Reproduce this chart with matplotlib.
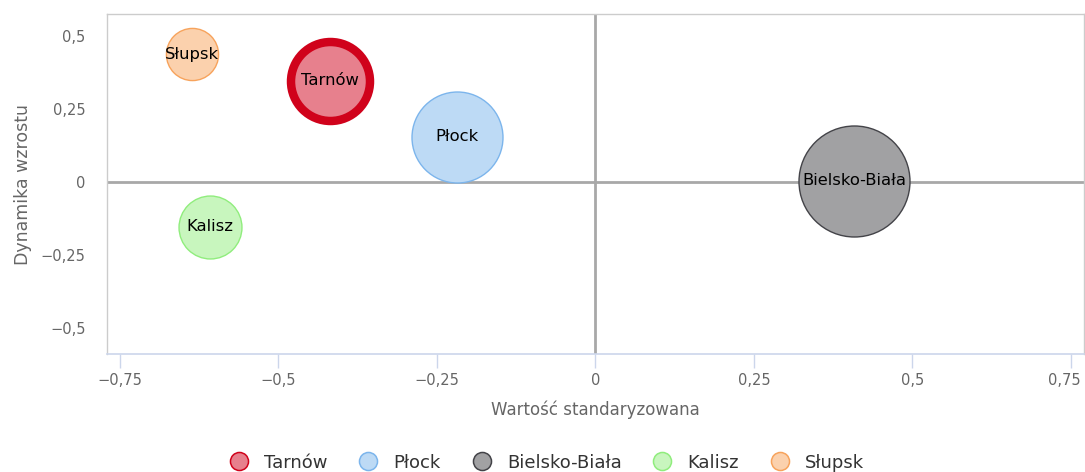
import matplotlib
matplotlib.use("Agg")
import matplotlib.pyplot as plt
import matplotlib.transforms as mtransforms
from matplotlib.lines import Line2D

# dane
miasta = ["Tarnów", "Płock", "Bielsko-Biała", "Kalisz", "Słupsk"]
wartosc_std = [-0.419, -0.219, 0.408, -0.608, -0.637]
dynamika = [0.347, 0.155, 0.005, -0.153, 0.437]
wielkosc = [15.6, 20.7, 30.8, 9.9, 6.8]

x_ticks = [-0.75, -0.5, -0.25, 0, 0.25, 0.5, 0.75]
x_labels = ["−0,75", "−0,5", "−0,25", "0", "0,25", "0,5", "0,75"]
y_ticks = [-0.5, -0.25, 0, 0.25, 0.5]
y_labels = ["−0,5", "−0,25", "0", "0,25", "0,5"]

kolory_tla = ["#e7808d", "#bddaf5", "#a1a1a3", "#c8f6be", "#fbd1ad"]
kolory_obr = ["#d0021b", "#7cb5ec", "#434348", "#90ed7d", "#f7a35c"]
grubosc = [6.1, 1.0, 1.0, 1.0, 1.0]

plt.rcParams['font.family'] = ['DejaVu Sans']

fig = plt.figure(figsize=(10.85, 4.72), dpi=100)
ax = fig.add_axes([0.0986, 0.25, 0.9004, 0.7203])

ax.axhline(0, color="#a8a8a8", lw=2, zorder=1)
ax.axvline(0, color="#a8a8a8", lw=2, zorder=1)

for i in range(len(miasta)):
    ax.scatter(wartosc_std[i], dynamika[i], s=wielkosc[i] * 207.36,
               facecolor=kolory_tla[i], edgecolor=kolory_obr[i],
               linewidths=grubosc[i], zorder=3)
    ax.text(wartosc_std[i], dynamika[i], miasta[i], ha="center", va="center",
            fontsize=11.8, color="black", zorder=4)

ax.set_xlim(-0.7705, 0.7705)
ax.set_ylim(-0.589, 0.575)
ax.set_xticks(x_ticks)
ax.set_xticklabels(x_labels)
ax.set_yticks(y_ticks)
ax.set_yticklabels(y_labels)

ax.tick_params(axis="x", length=10, width=1, color="#ccd6eb", labelcolor="#666666",
               labelsize=10.5, pad=4)
ax.tick_params(axis="y", length=0, labelcolor="#666666", labelsize=10.5, pad=15.5)

# ostatnia etykieta przesunieta do srodka, zeby sie miescila
ostatnia = ax.get_xticklabels()[-1]
ostatnia.set_transform(ostatnia.get_transform() +
                       mtransforms.ScaledTranslation(-7 / 100, 0, fig.dpi_scale_trans))

for s in ["top", "right", "left"]:
    ax.spines[s].set_color("#cccccc")
    ax.spines[s].set_linewidth(1)
ax.spines["bottom"].set_color("#ccd6eb")
ax.spines["bottom"].set_linewidth(1.2)

ax.set_xlabel("Wartość standaryzowana", color="#666666", fontsize=12, labelpad=9)
ax.set_ylabel("Dynamika wzrostu", color="#666666", fontsize=12.5, labelpad=6)

uchwyty = [Line2D([], [], marker="o", linestyle="none", markersize=13,
                  markerfacecolor=kolory_tla[i], markeredgecolor=kolory_obr[i],
                  markeredgewidth=1.1) for i in range(len(miasta))]
fig.legend(uchwyty, miasta, loc="lower center", bbox_to_anchor=(0.5, -0.034),
           ncol=5, frameon=False, fontsize=13, labelcolor="#333333",
           handletextpad=0.4, columnspacing=1.25)

fig.savefig("out.png", dpi=100)
